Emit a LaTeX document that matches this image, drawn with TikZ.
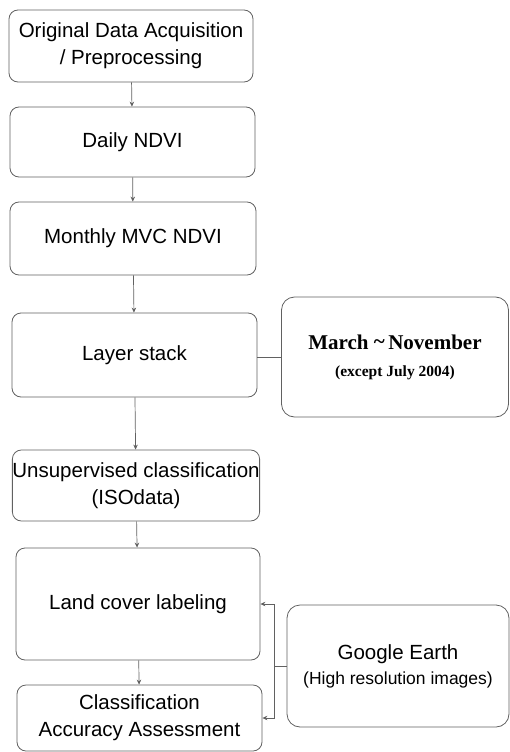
\documentclass[tikz,border=0pt]{standalone}
\usepackage{fontspec}
\setmainfont{Liberation Sans}
\newfontfamily\timesbf{Liberation Serif}[BoldFont={* Bold}]
\usetikzlibrary{positioning,arrows.meta}
\colorlet{cline}{black!62}
\tikzset{
  stepbox/.style={draw=cline, rounded corners=9pt, line width=0.8pt, align=center,
                  inner sep=0pt, font=\fontsize{20.5}{27}\selectfont},
  sidebox/.style={stepbox, rounded corners=13pt},
  flow/.style={-{Stealth[length=5pt,width=4.5pt]}, line width=0.7pt, cline},
  link/.style={line width=0.7pt, cline},
}
\begin{document}
\begin{tikzpicture}[x=1pt, y=-1pt]
\useasboundingbox (0,0) rectangle (510,752);

% main chain of processing steps
\node[stepbox, minimum width=244pt, minimum height=72pt] (orig) at (131,46)
  {Original Data Acquisition\\/ Preprocessing};
\node[stepbox, minimum width=245pt, minimum height=70pt] (daily) at (132.5,142) {Daily NDVI};
\node[stepbox, minimum width=246pt, minimum height=73pt] (monthly) at (133,238.5) {Monthly MVC NDVI};
\node[stepbox, minimum width=245pt, minimum height=84pt] (layer) at (134.5,355) {Layer stack};
\node[stepbox, minimum width=244pt, minimum height=71pt] (unsup) at (136,485.5)
  {Unsupervised classification\\(ISOdata)};
\node[stepbox, minimum width=244pt, minimum height=112pt] (land) at (138,604) {Land cover labeling};
\node[stepbox, minimum width=245pt, minimum height=66pt] (class) at (139.5,718)
  {Classification\\Accuracy Assessment};

% side notes
\node[sidebox, minimum width=227pt, minimum height=120pt] (march) at (395,357)
  {{\timesbf\bfseries\fontsize{21}{27}\selectfont March \raisebox{1pt}{\~{}}\,November}\\
   {\timesbf\bfseries\fontsize{15.5}{20}\selectfont (except July 2004)}};
\node[sidebox, minimum width=222pt, minimum height=122pt] (ge) at (398,666)
  {Google Earth\\[-2pt]{\fontsize{17.5}{22}\selectfont (High resolution images)}};

\draw[flow] (orig) -- (daily);
\draw[flow] (daily) -- (monthly);
\draw[flow] (monthly) -- (layer);
\draw[flow] (layer) -- (unsup);
\draw[flow] (unsup) -- (land);
\draw[flow] (land) -- (class);

\draw[link] (layer.east |- march.west) -- (march.west);
\coordinate[left=12pt of ge.west] (jn);
\draw[link] (ge.west) -- (jn);
\draw[flow] (jn) |- (land.east);
\draw[flow] (jn) |- (class.east);
\end{tikzpicture}
\end{document}
